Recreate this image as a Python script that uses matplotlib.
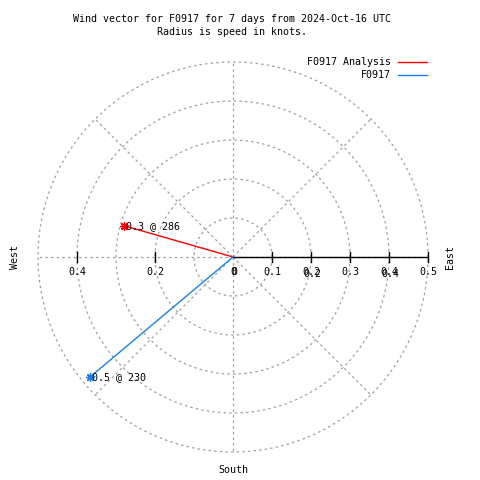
import numpy as np
import matplotlib
matplotlib.use("Agg")
import matplotlib.pyplot as plt

# ---- data ----
series_names = ["F0917 Analysis", "F0917"]
series_colors = ["#ff0000", "#1a80e8"]
speeds = [0.29, 0.48]          # knots
directions = [286, 230]        # degrees, clockwise from north
ring_values = [0.1, 0.2, 0.3, 0.4, 0.5]
right_ticks = [0.0, 0.1, 0.2, 0.3, 0.4, 0.5]
right_labels = ["0", "0.1", "0.2", "0.3", "0.4", "0.5"]
left_ticks = [-0.2, -0.4]
left_labels = ["0.2", "0.4"]
title_lines = ["Wind vector for F0917 for 7 days from 2024-Oct-16 UTC",
               "Radius is speed in knots."]

W = H = 480
CX, CY = 233, 257       # pixel center
SCALE = 390.0           # pixels per knot

fig = plt.figure(figsize=(4.8, 4.8), dpi=100)
ax = fig.add_axes([0, 0, 1, 1])
ax.set_xlim(-CX / SCALE, (W - CX) / SCALE)
ax.set_ylim(-(H - CY) / SCALE, CY / SCALE)
ax.set_aspect("equal")
ax.axis("off")

mono = "DejaVu Sans Mono"
fs = 7.2
grid_col = "#a0a0a0"
grid_ls = (0, (2, 2.5))

# rings
t = np.linspace(0, 2 * np.pi, 721)
for r in ring_values:
    ax.plot(r * np.cos(t), r * np.sin(t), color=grid_col, lw=0.9, ls=grid_ls)
# radial lines
rmax = max(ring_values)
for a in range(0, 360, 45):
    ar = np.deg2rad(a)
    ax.plot([0, rmax * np.cos(ar)], [0, rmax * np.sin(ar)], color=grid_col, lw=0.9, ls=grid_ls)

# axis on the right
ax.plot([0, rmax], [0, 0], color="black", lw=1.0)
tick_h = 5 / SCALE
for v in right_ticks[1:] + left_ticks:
    ax.plot([v, v], [-tick_h, tick_h], color="black", lw=1.0)
for v, lab in zip(right_ticks, right_labels):
    ax.text(v, -15 / SCALE, lab, fontsize=fs, family=mono, ha="center", va="center")
    if lab in ("0.2", "0.4"):
        ax.text(v + 1 / SCALE, -17 / SCALE, lab, fontsize=fs, family=mono, ha="center", va="center")
    if lab == "0":
        ax.text(v + 1 / SCALE, -15 / SCALE, lab, fontsize=fs, family=mono, ha="center", va="center")
for v, lab in zip(left_ticks, left_labels):
    ax.text(v, -15 / SCALE, lab, fontsize=fs, family=mono, ha="center", va="center")

# vectors
for name, col, s, d in zip(series_names, series_colors, speeds, directions):
    th = np.deg2rad(d)
    x, y = s * np.sin(th), s * np.cos(th)
    ax.plot([0, x], [0, y], color=col, lw=1.0)
    ax.plot([x], [y], marker=(8, 2, 0), color=col, ms=6, mew=1.0)
    ax.text(x + 2 / SCALE, y, f"{s:.1f} @ {d}", fontsize=fs, family=mono,
            ha="left", va="center")

# titles
fig.text(232 / W, 1 - 19 / H, title_lines[0], fontsize=fs, family=mono, ha="center", va="center")
fig.text(232 / W, 1 - 32 / H, title_lines[1], fontsize=fs, family=mono, ha="center", va="center")

# legend
for i, (name, col) in enumerate(zip(series_names, series_colors)):
    py = 62 + 13 * i
    fig.text(391 / W, 1 - py / H, name, fontsize=fs, family=mono, ha="right", va="center")
    fig.add_artist(plt.Line2D([398 / W, 427 / W], [1 - py / H, 1 - py / H], color=col, lw=1.0))

# compass labels
fig.text(15 / W, 1 - 257 / H, "West", fontsize=fs, family=mono, rotation=90, ha="center", va="center")
fig.text(450 / W, 1 - 257 / H, "East", fontsize=fs, family=mono, rotation=90, ha="center", va="center")
fig.text(233 / W, 1 - 470 / H, "South", fontsize=fs, family=mono, ha="center", va="center")

fig.savefig("out.png", dpi=100)
